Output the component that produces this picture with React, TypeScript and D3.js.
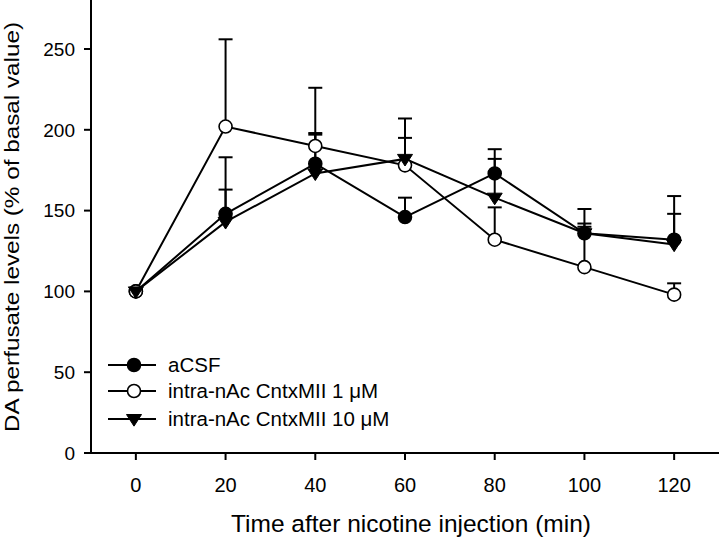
import React from "react";
import * as d3 from "d3";

const times = [0, 20, 40, 60, 80, 100, 120];
const acsf = [100, 148, 179, 146, 173, 136, 132];
const acsfErr = [100, 183, 198, 158, 188, 151, 159];
const cntx1 = [100, 202, 190, 178, 132, 115, 98];
const cntx1Err = [100, 256, 226, 195, 152, 140, 105];
const cntx10 = [100, 143, 173, 182, 158, 136, 129];
const cntx10Err = [100, 163, 197, 207, 182, 142, 148];
const xTicks = [0, 20, 40, 60, 80, 100, 120];
const yTicks = [0, 50, 100, 150, 200, 250];
const legendLabels = ["aCSF", "intra-nAc CntxMII 1 \u03bcM", "intra-nAc CntxMII 10 \u03bcM"];

const W = 720, H = 538;
const x = d3.scaleLinear().domain([-10, 130]).range([91, 719]);
const y = d3.scaleLinear().domain([0, 250]).range([453, 49]);

type Kind = "filled" | "open" | "tri";
const series: { vals: number[]; err: number[]; kind: Kind }[] = [
  { vals: acsf, err: acsfErr, kind: "filled" },
  { vals: cntx1, err: cntx1Err, kind: "open" },
  { vals: cntx10, err: cntx10Err, kind: "tri" },
];

function Marker({ cx, cy, kind }: { cx: number; cy: number; kind: Kind }) {
  if (kind === "tri") {
    const s = 7.5;
    return <path d={`M${cx - s},${cy - s * 0.6} L${cx + s},${cy - s * 0.6} L${cx},${cy + s * 0.95} Z`} fill="#000" stroke="#000" strokeWidth={1} />;
  }
  return <circle cx={cx} cy={cy} r={6.5} fill={kind === "filled" ? "#000" : "#fff"} stroke="#000" strokeWidth={1.6} />;
}

export default function App() {
  const line = d3.line<number>().x((_, i) => x(times[i])).y((d) => y(d));
  const font = "Liberation Sans, Arial, sans-serif";
  return (
    <svg width={W} height={H} style={{ position: "absolute", left: 0, top: 0, background: "#fff" }} fontFamily={font}>
      <rect width={W} height={H} fill="#fff" />
      {series.map((s, si) => (
        <g key={"e" + si} stroke="#000" strokeWidth={2}>
          {s.vals.map((v, i) =>
            s.err[i] > v ? (
              <g key={i}>
                <line x1={x(times[i])} x2={x(times[i])} y1={y(v)} y2={y(s.err[i])} />
                <line x1={x(times[i]) - 7} x2={x(times[i]) + 7} y1={y(s.err[i])} y2={y(s.err[i])} />
              </g>
            ) : null
          )}
        </g>
      ))}
      {series.map((s, si) => (
        <path key={"l" + si} d={line(s.vals) || ""} fill="none" stroke="#000" strokeWidth={2} />
      ))}
      {series.map((s, si) => (
        <g key={"m" + si}>
          {s.vals.map((v, i) => (
            <Marker key={i} cx={x(times[i])} cy={y(v)} kind={s.kind} />
          ))}
        </g>
      ))}
      <line x1={91} x2={91} y1={0} y2={454} stroke="#000" strokeWidth={2} />
      <line x1={90} x2={719} y1={453} y2={453} stroke="#000" strokeWidth={2} />
      {yTicks.map((t) => (
        <g key={"yt" + t}>
          <line x1={84} x2={91} y1={y(t)} y2={y(t)} stroke="#000" strokeWidth={2} />
          <text x={75} y={y(t)} dy="0.36em" textAnchor="end" fontSize={19}>{t}</text>
        </g>
      ))}
      {xTicks.map((t) => (
        <g key={"xt" + t}>
          <line x1={x(t)} x2={x(t)} y1={453} y2={460} stroke="#000" strokeWidth={2} />
          <text x={x(t)} y={492} textAnchor="middle" fontSize={20}>{t}</text>
        </g>
      ))}
      <text x={411} y={532} textAnchor="middle" fontSize={24.5}>Time after nicotine injection (min)</text>
      <text transform={`translate(19,227) rotate(-90)`} textAnchor="middle" fontSize={20} textLength={410} lengthAdjust="spacingAndGlyphs">DA perfusate levels (% of basal value)</text>
      {[0, 1, 2].map((si) => {
        const ly = [365, 391, 419][si];
        return (
          <g key={"lg" + si}>
            <line x1={108} x2={156} y1={ly} y2={ly} stroke="#000" strokeWidth={2} />
            <Marker cx={134} cy={ly} kind={series[si].kind} />
            <text x={168} y={ly} dy="0.36em" fontSize={20.5}>{legendLabels[si]}</text>
          </g>
        );
      })}
    </svg>
  );
}
